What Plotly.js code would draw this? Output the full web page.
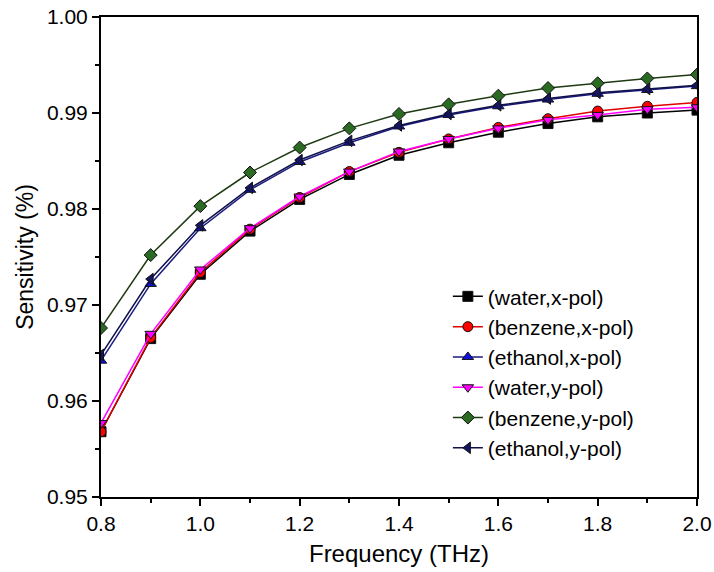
<!DOCTYPE html>
<html>
<head>
<meta charset="utf-8">
<script src="https://cdn.plot.ly/plotly-3.0.1.min.js"></script>
<style>html,body{margin:0;padding:0;background:#fff;}#chart{width:714px;height:572px;}</style>
</head>
<body>
<div id="chart"></div>
<script>
const freq = [0.8, 0.9, 1.0, 1.1, 1.2, 1.3, 1.4, 1.5, 1.6, 1.7, 1.8, 1.9, 2.0];
const waterX    = [0.9568, 0.9665, 0.9732, 0.9777, 0.9810, 0.9836, 0.9856, 0.9869, 0.9880, 0.9889, 0.9896, 0.9900, 0.9903];
const benzeneX  = [0.9568, 0.9666, 0.9734, 0.9779, 0.9812, 0.9839, 0.9859, 0.9873, 0.9885, 0.9894, 0.9902, 0.9907, 0.9911];
const ethanolX  = [0.9642, 0.9722, 0.9780, 0.9820, 0.9849, 0.9869, 0.9886, 0.9898, 0.9907, 0.9914, 0.9920, 0.9924, 0.9928];
const waterY    = [0.9577, 0.9670, 0.9737, 0.9780, 0.9813, 0.9839, 0.9860, 0.9873, 0.9884, 0.9893, 0.9898, 0.9904, 0.9906];
const benzeneY  = [0.9676, 0.9752, 0.9803, 0.9838, 0.9864, 0.9884, 0.9899, 0.9909, 0.9918, 0.9926, 0.9931, 0.9936, 0.9940];
const ethanolY  = [0.9648, 0.9727, 0.9783, 0.9822, 0.9851, 0.9871, 0.9887, 0.9899, 0.9908, 0.9915, 0.9921, 0.9925, 0.9929];
const names = ['(water,x-pol)', '(benzene,x-pol)', '(ethanol,x-pol)', '(water,y-pol)', '(benzene,y-pol)', '(ethanol,y-pol)'];
const series = [waterX, benzeneX, ethanolX, waterY, benzeneY, ethanolY];
const lineColors = ['#000000', '#e00000', '#1a1a80', '#ff00ff', '#1e3a12', '#10104a'];
const markerColors = ['#000000', '#ff0000', '#1010e0', '#ff00ff', '#2a6a22', '#151560'];
const symbols = ['square', 'circle', 'triangle-up', 'triangle-down', 'diamond', 'triangle-left'];

const traces = series.map((ys, i) => ({
  x: freq, y: ys, name: names[i], type: 'scatter', mode: 'lines+markers',
  line: {color: lineColors[i], width: 1.5},
  marker: {symbol: symbols[i], size: 10, color: markerColors[i], line: {color: '#111111', width: 1}}
}));

const FF = 'Liberation Sans, Arial, sans-serif';
const axisFont = {family: FF, size: 21, color: '#000'};
const layout = {
  width: 714, height: 572,
  margin: {l: 101, r: 17, t: 17, b: 75},
  paper_bgcolor: '#fff', plot_bgcolor: '#fff',
  showlegend: true,
  legend: {x: 0.582, y: 0.46, xanchor: 'left', yanchor: 'top', bgcolor: 'rgba(0,0,0,0)',
           font: {family: FF, size: 21, color: '#000'}, tracegroupgap: 0},
  xaxis: {
    range: [0.8, 2.0], dtick: 0.2, tick0: 0.8, tickformat: '.1f',
    showline: true, linecolor: '#000', linewidth: 2, mirror: true,
    ticks: 'outside', ticklen: 7, tickwidth: 2, tickcolor: '#000',
    minor: {dtick: 0.1, ticks: 'outside', ticklen: 4, tickwidth: 2, tickcolor: '#000', showgrid: false},
    showgrid: false, zeroline: false, tickfont: axisFont,
    title: {text: 'Frequency (THz)', font: {family: FF, size: 24, color: '#000'}, standoff: 11}
  },
  yaxis: {
    range: [0.95, 1.0], dtick: 0.01, tick0: 0.95, tickformat: '.2f',
    showline: true, linecolor: '#000', linewidth: 2, mirror: true,
    ticks: 'outside', ticklen: 7, tickwidth: 2, tickcolor: '#000',
    minor: {dtick: 0.005, ticks: 'outside', ticklen: 4, tickwidth: 2, tickcolor: '#000', showgrid: false},
    showgrid: false, zeroline: false, tickfont: axisFont,
    title: {text: 'Sensitivity (%)', font: {family: FF, size: 23, color: '#000'}, standoff: 7}
  }
};
Plotly.newPlot('chart', traces, layout, {displayModeBar: false, staticPlot: true});
</script>
</body>
</html>
